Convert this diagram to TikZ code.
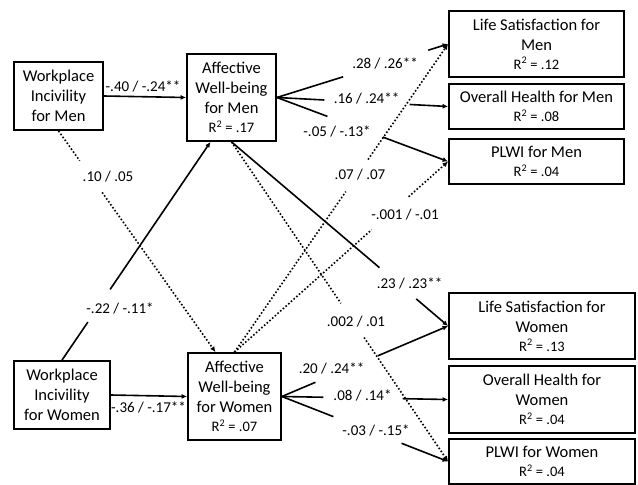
\documentclass[tikz,border=0pt]{standalone}
\usepackage{fontspec}
\setmainfont{Carlito}
\usetikzlibrary{arrows.meta,calc}
\tikzset{
  box/.style={draw, line width=1.8pt, inner sep=0pt, align=center, font=\fontsize{16.5}{20}\selectfont},
  conn/.style={line width=1.6pt},
  dotconn/.style={line width=1.6pt, dotted},
  arr/.style={-{Latex[length=5.5pt,width=5pt]}},
  lab/.style={inner sep=0pt, font=\fontsize{15}{18}\selectfont},
}
\newcommand{\rsq}[1]{{\fontsize{14.5}{17}\selectfont R\textsuperscript{2} = #1}}
\newcommand{\gapline}[5]{%
  \draw[#1] (#2) -- ($(#2)!#4!(#3)$);
  \draw[#1,arr] ($(#2)!#5!(#3)$) -- (#3);}
\begin{document}
\begin{tikzpicture}[x=1pt,y=-1pt]
\useasboundingbox (0,0) rectangle (638,485);
% boxes
\node[box, minimum width=89pt, minimum height=68pt] (wim) at (58.5,96) {Workplace\\Incivility\\for Men};
\node[box, minimum width=89pt, minimum height=87pt] (awm) at (231.5,97.5) {Affective\\Well-being\\for Men\\[-1pt]\rsq{.17}};
\node[box, minimum width=96pt, minimum height=68pt] (wiw) at (62,395) {Workplace\\Incivility\\for Women};
\node[box, minimum width=93pt, minimum height=87pt] (aww) at (234.5,396.5) {Affective\\Well-being\\for Women\\[-1pt]\rsq{.07}};
\node[box, minimum width=175pt, minimum height=66pt] (lsm) at (536.5,44) {Life Satisfaction for\\Men\\[-1pt]\rsq{.12}};
\node[box, minimum width=175pt, minimum height=45pt] (ohm) at (536.5,106.5) {Overall Health for Men\\[-1pt]\rsq{.08}};
\node[box, minimum width=175pt, minimum height=45pt] (plm) at (536.5,161.5) {PLWI for Men\\[-1pt]\rsq{.04}};
\node[box, minimum width=186pt, minimum height=66pt] (lsw) at (542,326) {Life Satisfaction for\\Women\\[-1pt]\rsq{.13}};
\node[box, minimum width=186pt, minimum height=67pt] (ohw) at (542,399.5) {Overall Health for\\Women\\[-1pt]\rsq{.04}};
\node[box, minimum width=186pt, minimum height=45pt] (plw) at (542,461.5) {PLWI for Women\\[-1pt]\rsq{.04}};
% offset entry points
\coordinate (awwin) at ($(aww.north)+(-19,0)$);
\coordinate (awmin) at ($(awm.south)+(-21,0)$);
% connectors
\draw[conn,arr] (wim.east) -- (awm.west);
\gapline{dotconn}{wim.south}{awwin}{0.135}{0.278}
\gapline{conn}{wiw.north}{awmin}{0.174}{0.324}
\draw[conn,arr] (wiw.east) -- (aww.west);
\gapline{conn}{awm.east}{lsm.west}{0.387}{0.884}
\gapline{conn}{awm.east}{ohm.west}{0.277}{0.775}
\gapline{conn}{awm.east}{plm.west}{0.295}{0.618}
\gapline{conn}{awm.south}{lsw.west}{0.683}{0.853}
\gapline{dotconn}{awm.south}{plw.west}{0.505}{0.612}
\gapline{dotconn}{aww.north}{lsm.west}{0.521}{0.625}
\gapline{dotconn}{aww.north}{plm.west}{0.642}{0.815}
\gapline{conn}{aww.east}{lsw.west}{0.202}{0.577}
\gapline{conn}{aww.east}{ohw.west}{0.25}{0.726}
\gapline{conn}{aww.east}{plw.west}{0.31}{0.72}
% labels
\node[lab] (l1) at (143,86) {-.40 / -.24**};
\node[lab] (l2) at (108,177) {.10 / .05};
\node[lab] (l3) at (120,308) {-.22 / -.11*};
\node[lab] (l4) at (148.5,407) {-.36 / -.17**};
\node[lab] (l5) at (385,63) {.28 / .26**};
\node[lab] (l6) at (366.5,98) {.16 / .24**};
\node[lab] (l7) at (337,131) {-.05 / -.13*};
\node[lab] (l8) at (409.5,283) {.23 / .23**};
\node[lab] (l9) at (356,322) {.002 / .01};
\node[lab] (l10) at (360,175) {.07 / .07};
\node[lab] (l11) at (405,215) {-.001 / -.01};
\node[lab] (l12) at (331.5,368) {.20 / .24**};
\node[lab] (l13) at (362.5,395) {.08 / .14*};
\node[lab] (l14) at (376,430) {-.03 / -.15*};
\end{tikzpicture}
\end{document}
